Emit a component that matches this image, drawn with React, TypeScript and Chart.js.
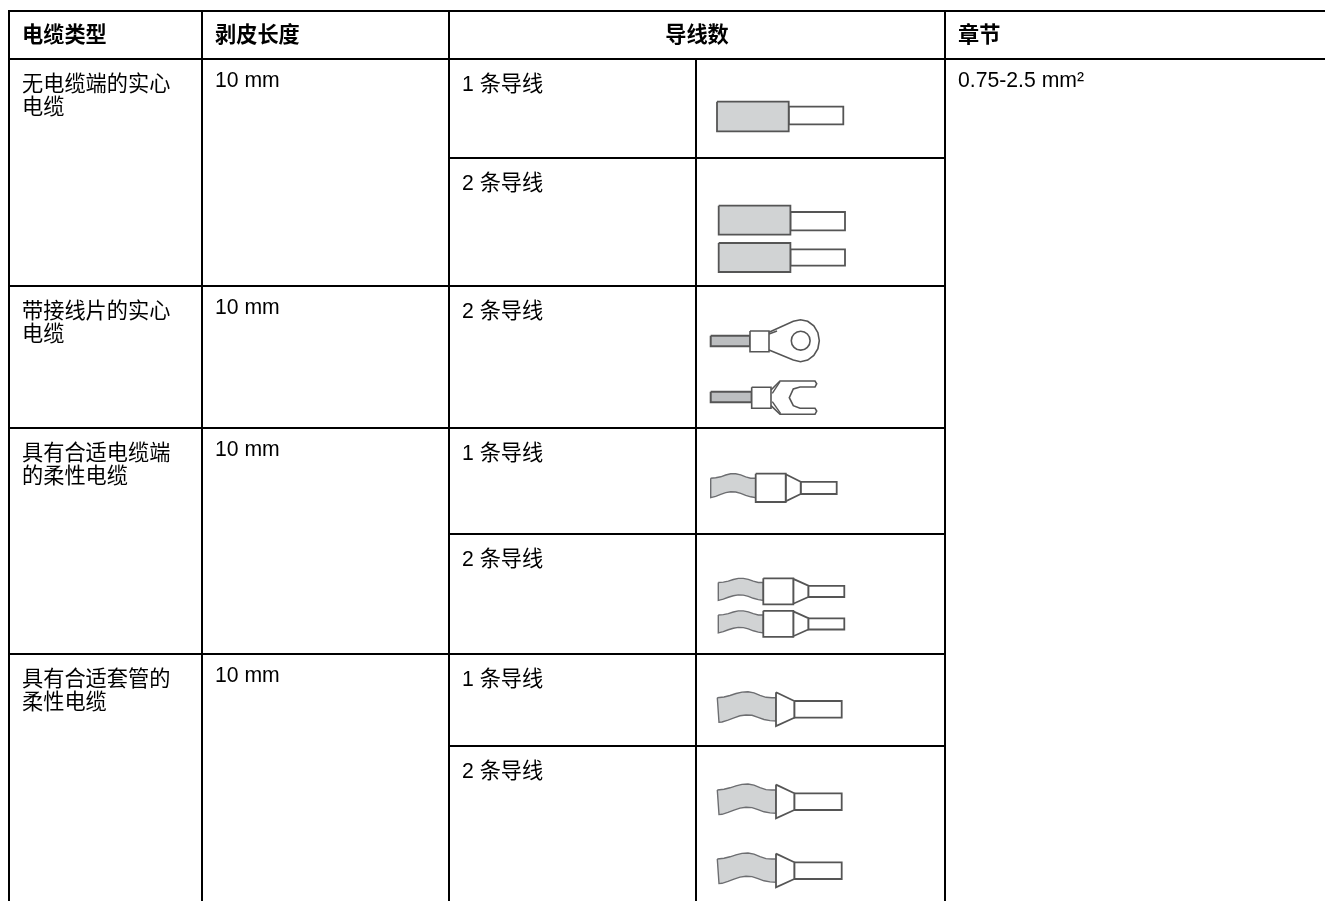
import React, { useEffect, useRef } from "react";
import { Chart, registerables } from "chart.js";

Chart.register(...registerables);

const W = 1325;
const H = 901;
type P = [number, number];

// ---- table content ----
const headers = ["电缆类型", "剥皮长度", "导线数", "章节"];
const cableTypes = [
  ["无电缆端的实心", "电缆"],
  ["带接线片的实心", "电缆"],
  ["具有合适电缆端", "的柔性电缆"],
  ["具有合适套管的", "柔性电缆"],
];
const stripLength = "10 mm";
const sectionText = "0.75-2.5 mm²";
const conductorLabels = ["1 条导线", "2 条导线", "2 条导线", "1 条导线", "2 条导线", "1 条导线", "2 条导线"];

// ---- table geometry ----
const colEdges = [9, 202, 449, 696, 945];
const tableTop = 11;
const headerBottom = 59;
const mainRowTops = [59, 286, 428, 654];
const subRowTops = [59, 158, 286, 428, 534, 654, 746];
const fullRules = [286, 428, 654];
const subRules = [158, 534, 746];

// ---- icon parts (page units of the scales) ----
const GREY = "#d1d3d4";
const STROKE = "#555555";
const WAVE_EDGE = "#6d6e71";

const ringOutline: P[] = [
  [769, 332.3], [793.3, 321.3], [800.5, 319.7], [807.7, 321.3], [813.8, 325.9], [817.9, 332.7],
  [819.3, 340.7], [817.9, 348.7], [813.8, 355.5], [807.7, 360.1], [800.5, 361.7], [793.3, 360.1], [769, 350],
];
const forkOutline: P[] = [
  [771, 390], [780, 381], [815, 381], [816.7, 383.7], [815, 387], [800, 387], [793.3, 389], [789.3, 397.7],
  [793.3, 405.7], [800, 408.3], [815, 408.3], [816.7, 411], [815, 414.3], [780, 414.3], [771, 405.7],
];
const forkInnerA: P[] = [[780, 381.7], [772.3, 393.3]];
const forkInnerB: P[] = [[772.3, 401.7], [780.7, 413.7]];

// wave of a stripped flexible wire, relative to its right end and the icon's mid line
const ferruleWave: P[] = [
  [-45, -9.5], [-40, -10], [-35, -11], [-30, -12.8], [-25, -14], [-20, -14], [-15, -13], [-10, -11], [-5, -9.6], [0, -9.5],
  [0, 9.9], [-5, 9], [-10, 7.6], [-15, 5.5], [-20, 4.2], [-25, 3.9], [-30, 4.8], [-35, 6.5], [-40, 8.5], [-45, 9.9],
];
const sleeveWave: P[] = [
  [-58.7, -11.6], [-52, -12.3], [-46, -13.8], [-40, -15.8], [-34, -17.2], [-28, -17.6], [-22, -16.5], [-16, -14], [-10, -12], [-4, -11.6], [0, -11.6],
  [0, 11.7], [-6, 11.3], [-12, 10.2], [-18, 8], [-24, 6], [-30, 5.7], [-36, 6.5], [-42, 8.5], [-48, 10.8], [-54, 12.7], [-57, 13],
];

const solidPlacements = [
  { x: 717, grey: [101.7, 131.3], pin: [106.7, 124.3] },
  { x: 718.7, grey: [205.7, 234.7], pin: [212, 230.3] },
  { x: 718.7, grey: [243, 272], pin: [249.3, 265.7] },
];
const lugWires = [
  { wire: [710.7, 750, 335.7, 346.3], barrel: [750, 769, 331, 351.7] },
  { wire: [710.7, 751.7, 391.7, 402.3], barrel: [751.7, 771, 387.3, 408.3] },
];
const ferrulePlacements = [
  { x: 755.7, y: 487.8, k: 1 },
  { x: 763.3, y: 591.3, k: 0.92 },
  { x: 763.3, y: 623.8, k: 0.92 },
];
const sleevePlacements = [
  { x: 776, y: 709.3 },
  { x: 776, y: 801.6 },
  { x: 776, y: 870.6 },
];
const ringHole: P = [800.7, 340.7];

// ---- dataset helpers ----
const pts = (a: P[]) => a.map(([x, y]) => ({ x, y }));
const rule = (a: P, b: P) => ({
  data: pts([a, b]),
  showLine: true,
  borderColor: "#000",
  borderWidth: 2,
  pointRadius: 0,
  fill: false,
  borderCapStyle: "square",
});
const shape = (a: P[], fillColor: string | null, closed = true, width = 1.8, color = STROKE) => ({
  data: pts(closed ? [...a, a[0]] : a),
  showLine: true,
  borderColor: color,
  borderWidth: width,
  pointRadius: 0,
  tension: 0,
  fill: fillColor ? "shape" : false,
  backgroundColor: fillColor ?? "transparent",
  borderJoinStyle: "miter",
});
const rect = (x0: number, x1: number, y0: number, y1: number, c: string | null, w = 1.8) =>
  shape([[x0, y0], [x1, y0], [x1, y1], [x0, y1]], c, true, w);

function buildDatasets() {
  const list: any[] = [];
  // grid
  colEdges.forEach((x, i) => list.push(rule([x, i === 3 ? headerBottom : tableTop], [x, H])));
  list.push(rule([colEdges[0], tableTop], [W, tableTop]));
  list.push(rule([colEdges[0], headerBottom], [W, headerBottom]));
  fullRules.forEach((y) => list.push(rule([colEdges[0], y], [colEdges[4], y])));
  subRules.forEach((y) => list.push(rule([colEdges[2], y], [colEdges[4], y])));

  // solid wires
  solidPlacements.forEach((s) => {
    list.push(rect(s.x + 71.7, s.x + 126.3, s.pin[0], s.pin[1], "#fff"));
    list.push(rect(s.x, s.x + 71.7, s.grey[0], s.grey[1], GREY));
  });

  // lugs
  list.push(shape(ringOutline, "#fff", false, 1.6));
  list.push(shape([[769, 334], [777, 331]], null, false, 1.4));
  list.push({
    data: pts([ringHole]),
    showLine: false,
    pointStyle: "circle",
    pointRadius: 9.4,
    pointBackgroundColor: "#fff",
    pointBorderColor: STROKE,
    pointBorderWidth: 1.6,
  });
  list.push(shape(forkOutline, "#fff", false, 1.6));
  list.push(shape(forkInnerA, null, false, 1.4));
  list.push(shape(forkInnerB, null, false, 1.4));
  lugWires.forEach(({ wire, barrel }) => {
    list.push(rect(wire[0], wire[1], wire[2], wire[3], "#bcbec0", 2));
    list.push(rect(barrel[0], barrel[1], barrel[2], barrel[3], "#fff", 1.6));
  });

  // ferrules
  ferrulePlacements.forEach(({ x, y, k }) => {
    const m = (p: P): P => [x + p[0], y + p[1] * k];
    list.push(shape(ferruleWave.map(m), GREY, true, 1.4, WAVE_EDGE));
    list.push(rect(x + 45, x + 81, y - 6 * k, y + 6.2 * k, "#fff"));
    list.push(shape([m([30, -13.5]), m([45, -6.1]), m([45, 6.2]), m([30, 13.5])], "#fff", true, 1.8));
    list.push(rect(x, x + 30, y - 14.1 * k, y + 14.2 * k, "#fff", 1.8));
  });

  // sleeves
  sleevePlacements.forEach(({ x, y }) => {
    const m = (p: P): P => [x + p[0], y + p[1]];
    list.push(shape(sleeveWave.map(m), GREY, true, 1.4, WAVE_EDGE));
    list.push(rect(x + 18.3, x + 65.7, y - 8.3, y + 8.4, "#fff"));
    list.push(shape([m([0, -17]), m([18.3, -8.3]), m([18.3, 8.4]), m([0, 16.7])], "#fff", true, 1.8));
  });
  return list.reverse();
}

const SANS = '"Liberation Sans", "Noto Sans CJK SC", sans-serif';
const FONT_SIZE = 21.2;
const LEFT_PAD = 13;
const HEAD_BASE = 42;
const CELL_BASE = 28;
const CJK_BASE = 31.5;
const LINE_STEP = 23;

const tablePlugin = {
  id: "tableText",
  afterDatasetsDraw(chart: any) {
    const { ctx, scales } = chart;
    const px = (v: number) => scales.x.getPixelForValue(v);
    const py = (v: number) => scales.y.getPixelForValue(v);
    ctx.save();
    ctx.fillStyle = "#000";
    ctx.textBaseline = "alphabetic";
    ctx.textAlign = "left";
    ctx.font = `bold ${FONT_SIZE}px ${SANS}`;
    ctx.fillText(headers[0], px(colEdges[0] + LEFT_PAD), py(HEAD_BASE));
    ctx.fillText(headers[1], px(colEdges[1] + LEFT_PAD), py(HEAD_BASE));
    ctx.fillText(headers[3], px(colEdges[4] + LEFT_PAD), py(HEAD_BASE));
    ctx.textAlign = "center";
    ctx.fillText(headers[2], px((colEdges[2] + colEdges[4]) / 2), py(HEAD_BASE));
    ctx.textAlign = "left";
    ctx.font = `${FONT_SIZE}px ${SANS}`;
    mainRowTops.forEach((top, i) => {
      cableTypes[i].forEach((line, j) =>
        ctx.fillText(line, px(colEdges[0] + LEFT_PAD), py(top + CJK_BASE + j * LINE_STEP))
      );
      ctx.fillText(stripLength, px(colEdges[1] + LEFT_PAD), py(top + CELL_BASE));
    });
    subRowTops.forEach((top, i) =>
      ctx.fillText(conductorLabels[i], px(colEdges[2] + LEFT_PAD), py(top + CJK_BASE))
    );
    ctx.fillText(sectionText, px(colEdges[4] + LEFT_PAD), py(mainRowTops[0] + CELL_BASE));
    ctx.restore();
  },
};

export default function App() {
  const ref = useRef<HTMLCanvasElement>(null);
  useEffect(() => {
    if (!ref.current) return;
    const chart = new Chart(ref.current, {
      type: "scatter",
      data: { datasets: buildDatasets() },
      options: {
        animation: false,
        responsive: false,
        layout: { padding: 0, autoPadding: false },
        plugins: { legend: { display: false }, tooltip: { enabled: false }, title: { display: false } },
        scales: {
          x: { type: "linear", min: 0, max: W, display: false },
          y: { type: "linear", min: 0, max: H, reverse: true, display: false },
        },
      },
      plugins: [tablePlugin],
    } as any);
    return () => chart.destroy();
  }, []);
  return (
    <canvas
      ref={ref}
      width={W}
      height={H}
      style={{ position: "absolute", left: 0, top: 0, display: "block", width: W, height: H, background: "#fff" }}
    />
  );
}
